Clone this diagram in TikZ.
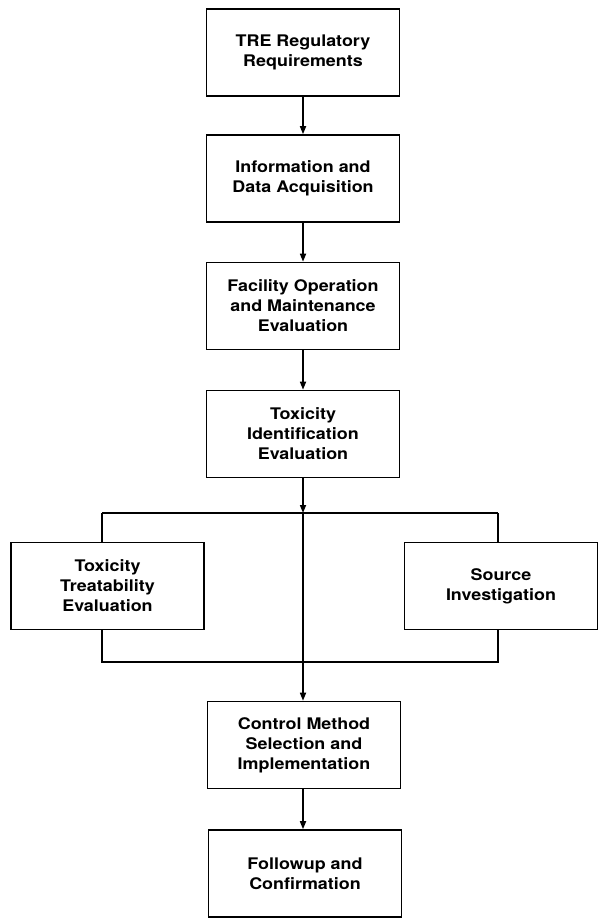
\documentclass[tikz,border=0pt]{standalone}
\usepackage{fontspec}
\setmainfont{TeX Gyre Heros}[FakeStretch=1.12]
\usetikzlibrary{arrows.meta}
\begin{document}
\begin{tikzpicture}[x=1pt,y=-1pt,
  box/.style={draw,line width=1.6pt,minimum width=193pt,minimum height=87pt,align=center,
    font=\fontsize{16}{20}\selectfont\bfseries,inner sep=0pt},
  conn/.style={line width=1.6pt},
  arr/.style={conn,-{Triangle[length=8pt,width=6pt]}}]
\useasboundingbox (0,0) rectangle (599,918);
\node[box] (b1) at (303,52.5) {TRE Regulatory\\Requirements};
\node[box] (b2) at (303,178.5) {Information and\\Data Acquisition};
\node[box] (b3) at (303,306) {Facility Operation\\and Maintenance\\Evaluation};
\node[box] (b4) at (303,434) {Toxicity\\Identification\\Evaluation};
\node[box] (bl) at (107.5,586) {Toxicity\\Treatability\\Evaluation};
\node[box] (br) at (501,586) {Source\\Investigation};
\node[box] (b5) at (304,745) {Control Method\\Selection and\\Implementation};
\node[box] (b6) at (305,873.5) {Followup and\\Confirmation};
\coordinate (st) at (303,513);
\coordinate (sl) at (102,513);
\coordinate (sr) at (498,513);
\coordinate (jl) at (102,662);
\coordinate (jr) at (498,662);
\draw[arr] (b1) -- (b2);
\draw[arr] (b2) -- (b3);
\draw[arr] (b3) -- (b4);
\draw[arr] (b4.south) -- (st);
\draw[conn] (sl) -- (sr);
\draw[conn] (sl) -- (sl |- bl.north);
\draw[conn] (sr) -- (sr |- br.north);
\draw[conn] (jl |- bl.south) -- (jl) -- (jr) -- (jr |- br.south);
\draw[arr] (st) -- (st |- b5.north);
\draw[arr] (b5.south -| st) -- (st |- b6.north);
\end{tikzpicture}
\end{document}
